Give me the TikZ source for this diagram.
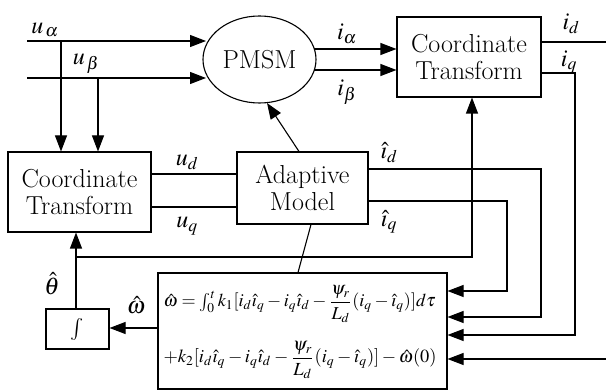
\documentclass[tikz,border=0pt]{standalone}
\usepackage{mathptmx}
\usetikzlibrary{arrows.meta,shapes.geometric,calc}
\begin{document}
\begin{tikzpicture}[x=1pt,y=-1pt,
  line width=1.1pt,
  box/.style={draw,rectangle,inner sep=0pt,align=center,font=\rmfamily\fontsize{26}{27}\selectfont},
  lab/.style={font=\fontsize{24}{28}\selectfont,inner sep=0pt},
  arr/.style={-{Triangle[length=16pt,width=12pt]}}]
\useasboundingbox (0,0) rectangle (606,390);
% blocks
\node[box,minimum width=143pt,minimum height=80pt] (ct2) at (79.5,192) {Coordinate\\Transform};
\node[box,minimum width=144pt,minimum height=80pt] (ct1) at (469,57) {Coordinate\\Transform};
\node[draw,ellipse,minimum width=113pt,minimum height=87pt,inner sep=0pt,font=\rmfamily\fontsize{26}{27}\selectfont] (pmsm) at (259.5,59.5) {PMSM};
\node[box,minimum width=131pt,minimum height=72pt] (am) at (302.5,188) {Adaptive\\Model};
\node[box,minimum width=63pt,minimum height=40pt,font=\fontsize{22}{24}\selectfont] (int) at (77.5,329) {$\int$};
\node[draw,minimum width=289pt,minimum height=116pt,inner sep=0pt] (fb) at (302.5,331) {};
\node[anchor=west,inner sep=0pt] (f1) at (163,304) {\resizebox{272pt}{!}{$\hat{\omega}=\textstyle\int_0^t k_1[i_d\hat{\imath}_q - i_q\hat{\imath}_d - \displaystyle\frac{\psi_r}{L_d}(i_q-\hat{\imath}_q)]d\tau$}};
\node[anchor=west,inner sep=0pt] (f2) at (163,360) {\resizebox{273pt}{!}{$+k_2[i_d\hat{\imath}_q - i_q\hat{\imath}_d - \displaystyle\frac{\psi_r}{L_d}(i_q-\hat{\imath}_q)]-\hat{\omega}(0)$}};
% coordinates
\coordinate (ua) at (27,41);
\coordinate (ub) at (27,78);
\coordinate (pa) at (206,41);
\coordinate (pb) at (206,78);
\coordinate (ja) at (61,41);
\coordinate (jb) at (98,78);
\coordinate (pia) at (314,49);
\coordinate (pib) at (314,70);
\coordinate (idend) at (606,42);
\coordinate (th) at (76,257);
\coordinate (bin) at (606,359);
\coordinate (pm) at (267,103);
% connectors
\draw[arr] (ua) -- (pa);
\draw[arr] (ub) -- (pb);
\draw[arr] (ja) -- (ja |- ct2.north);
\draw[arr] (jb) -- (jb |- ct2.north);
\draw[arr] (pia) -- (pia -| ct1.west);
\draw[arr] (pib) -- (pib -| ct1.west);
\draw (ct1.east |- idend) -- (idend);
\draw[arr] (ct1.east |- 0,73) -- (575,73) -- (575,335) -- (fb.east |- 0,335);
\draw (ct2.east |- 0,174) -- (am.west |- 0,174);
\draw (ct2.east |- 0,207) -- (am.west |- 0,207);
\draw[arr] (am.east |- 0,169) -- (541,169) -- (541,317) -- (fb.east |- 0,317);
\draw[arr] (am.east |- 0,201) -- (507,201) -- (507,291) -- (fb.east |- 0,291);
\draw[arr] (th |- int.north) -- (th |- ct2.south);
\draw[arr] (th) -- (472,257) -- (472,0 |- ct1.south);
\draw[arr] (fb.west |- 0,328) -- (int.east |- 0,328);
\draw[arr] (bin) -- (bin -| fb.east);
\draw (298,0 |- fb.north) -- (311,0 |- am.south);
\draw[arr] (299,0 |- am.north) -- (pm);
% labels
\node[lab] (lua) at (45,30) {$u_{\,\alpha}$};
\node[lab] (lub) at (86,64) {$u_{\,\beta}$};
\node[lab] (lia) at (347,34) {$i_\alpha$};
\node[lab] (lib) at (347,92) {$i_\beta$};
\node[lab] (lid) at (571,24) {$i_d$};
\node[lab] (liq) at (569,62) {$i_q$};
\node[lab] (lud) at (187,162) {$u_d$};
\node[lab] (luq) at (187,226) {$u_q$};
\node[lab] (lhid) at (389,153) {$\hat{\imath}_d$};
\node[lab] (lhiq) at (389,222) {$\hat{\imath}_q$};
\node[lab] (lth) at (52,284) {$\hat\theta$};
\node[lab] (lom) at (136,305) {$\hat\omega$};
\end{tikzpicture}
\end{document}
